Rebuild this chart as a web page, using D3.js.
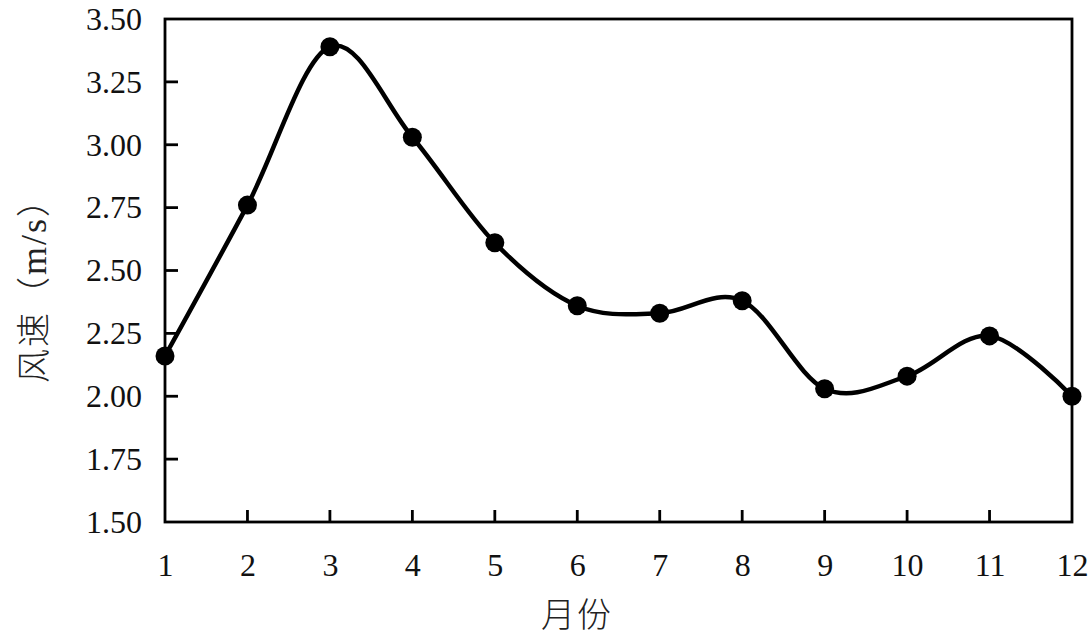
<!DOCTYPE html>
<html>
<head>
<meta charset="utf-8">
<script src="https://cdn.jsdelivr.net/npm/d3@7"></script>
<style>
  body { margin: 0; background: #fff; }
  svg { display: block; }
</style>
</head>
<body>
<div id="chart"></div>
<script>
// month labels and wind speed (m/s)
const months = [1, 2, 3, 4, 5, 6, 7, 8, 9, 10, 11, 12]
const speeds = [2.16, 2.76, 3.39, 3.03, 2.61, 2.36, 2.33, 2.38, 2.03, 2.08, 2.24, 2.00]
const yTicks = [1.50, 1.75, 2.00, 2.25, 2.50, 2.75, 3.00, 3.25, 3.50]

const width = 1092
const height = 637
const margin = { top: 19, right: 20, bottom: 115, left: 165 }

const svg = d3.select('#chart').append('svg')
    .attr('width', width)
    .attr('height', height)

const x = d3.scaleLinear()
    .domain([1, 12])
    .range([margin.left, width - margin.right])

const y = d3.scaleLinear()
    .domain([1.5, 3.5])
    .range([height - margin.bottom, margin.top])

const fontSerif = '"Liberation Serif", "Times New Roman", serif'

// y axis (ticks inside)
const yAxis = svg.append('g')
    .attr('transform', `translate(${margin.left},0)`)
    .call(d3.axisLeft(y).tickValues(yTicks).tickSize(0).tickPadding(23).tickFormat(d3.format('.2f')))
yAxis.select('.domain').remove()
yAxis.selectAll('text')
    .attr('font-family', fontSerif)
    .attr('font-size', '32px')
    .attr('fill', '#111')
svg.append('g').selectAll('line')
    .data(yTicks.slice(1, -1))
    .enter().append('line')
    .attr('x1', margin.left).attr('x2', margin.left + 13)
    .attr('y1', d => y(d)).attr('y2', d => y(d))
    .attr('stroke', '#000').attr('stroke-width', 2.8)

// x axis
const xAxis = svg.append('g')
    .attr('transform', `translate(0,${height - margin.bottom})`)
    .call(d3.axisBottom(x).tickValues(months).tickSize(0).tickPadding(31).tickFormat(d3.format('d')))
xAxis.select('.domain').remove()
xAxis.selectAll('text')
    .attr('font-family', fontSerif)
    .attr('font-size', '32px')
    .attr('fill', '#111')
svg.append('g').selectAll('line')
    .data(months.slice(1, -1))
    .enter().append('line')
    .attr('x1', d => x(d)).attr('x2', d => x(d))
    .attr('y1', height - margin.bottom).attr('y2', height - margin.bottom - 12)
    .attr('stroke', '#000').attr('stroke-width', 2.8)

// frame
svg.append('rect')
    .attr('x', margin.left)
    .attr('y', margin.top)
    .attr('width', width - margin.left - margin.right)
    .attr('height', height - margin.top - margin.bottom)
    .attr('fill', 'none')
    .attr('stroke', '#000')
    .attr('stroke-width', 2.8)

// smoothed line
const line = d3.line()
    .x((d, i) => x(months[i]))
    .y(d => y(d))
    .curve(d3.curveCardinal.tension(0))

svg.append('path')
    .datum(speeds)
    .attr('d', line)
    .attr('fill', 'none')
    .attr('stroke', '#000')
    .attr('stroke-width', 4.5)

svg.append('g').selectAll('circle')
    .data(speeds)
    .enter().append('circle')
    .attr('cx', (d, i) => x(months[i]))
    .attr('cy', d => y(d))
    .attr('r', 9.5)
    .attr('fill', '#000')

// axis titles
svg.append('text')
    .attr('x', 577)
    .attr('y', 627)
    .attr('text-anchor', 'middle')
    .attr('font-family', '"Noto Sans CJK SC", sans-serif')
    .attr('font-size', '34px')
    .attr('font-weight', 300)
    .attr('letter-spacing', '2px')
    .attr('fill', '#222')
    .text('月份')

const yTitle = svg.append('text')
    .attr('transform', `translate(46,282) rotate(-90)`)
    .attr('text-anchor', 'middle')
    .attr('font-family', '"Noto Sans CJK SC", sans-serif')
    .attr('font-size', '34px')
    .attr('font-weight', 300)
    .attr('letter-spacing', '2px')
    .attr('fill', '#222')
yTitle.append('tspan').text('风速（')
yTitle.append('tspan').attr('font-family', fontSerif).attr('font-size', '36px').text('m/s')
yTitle.append('tspan').text('）')
</script>
</body>
</html>
